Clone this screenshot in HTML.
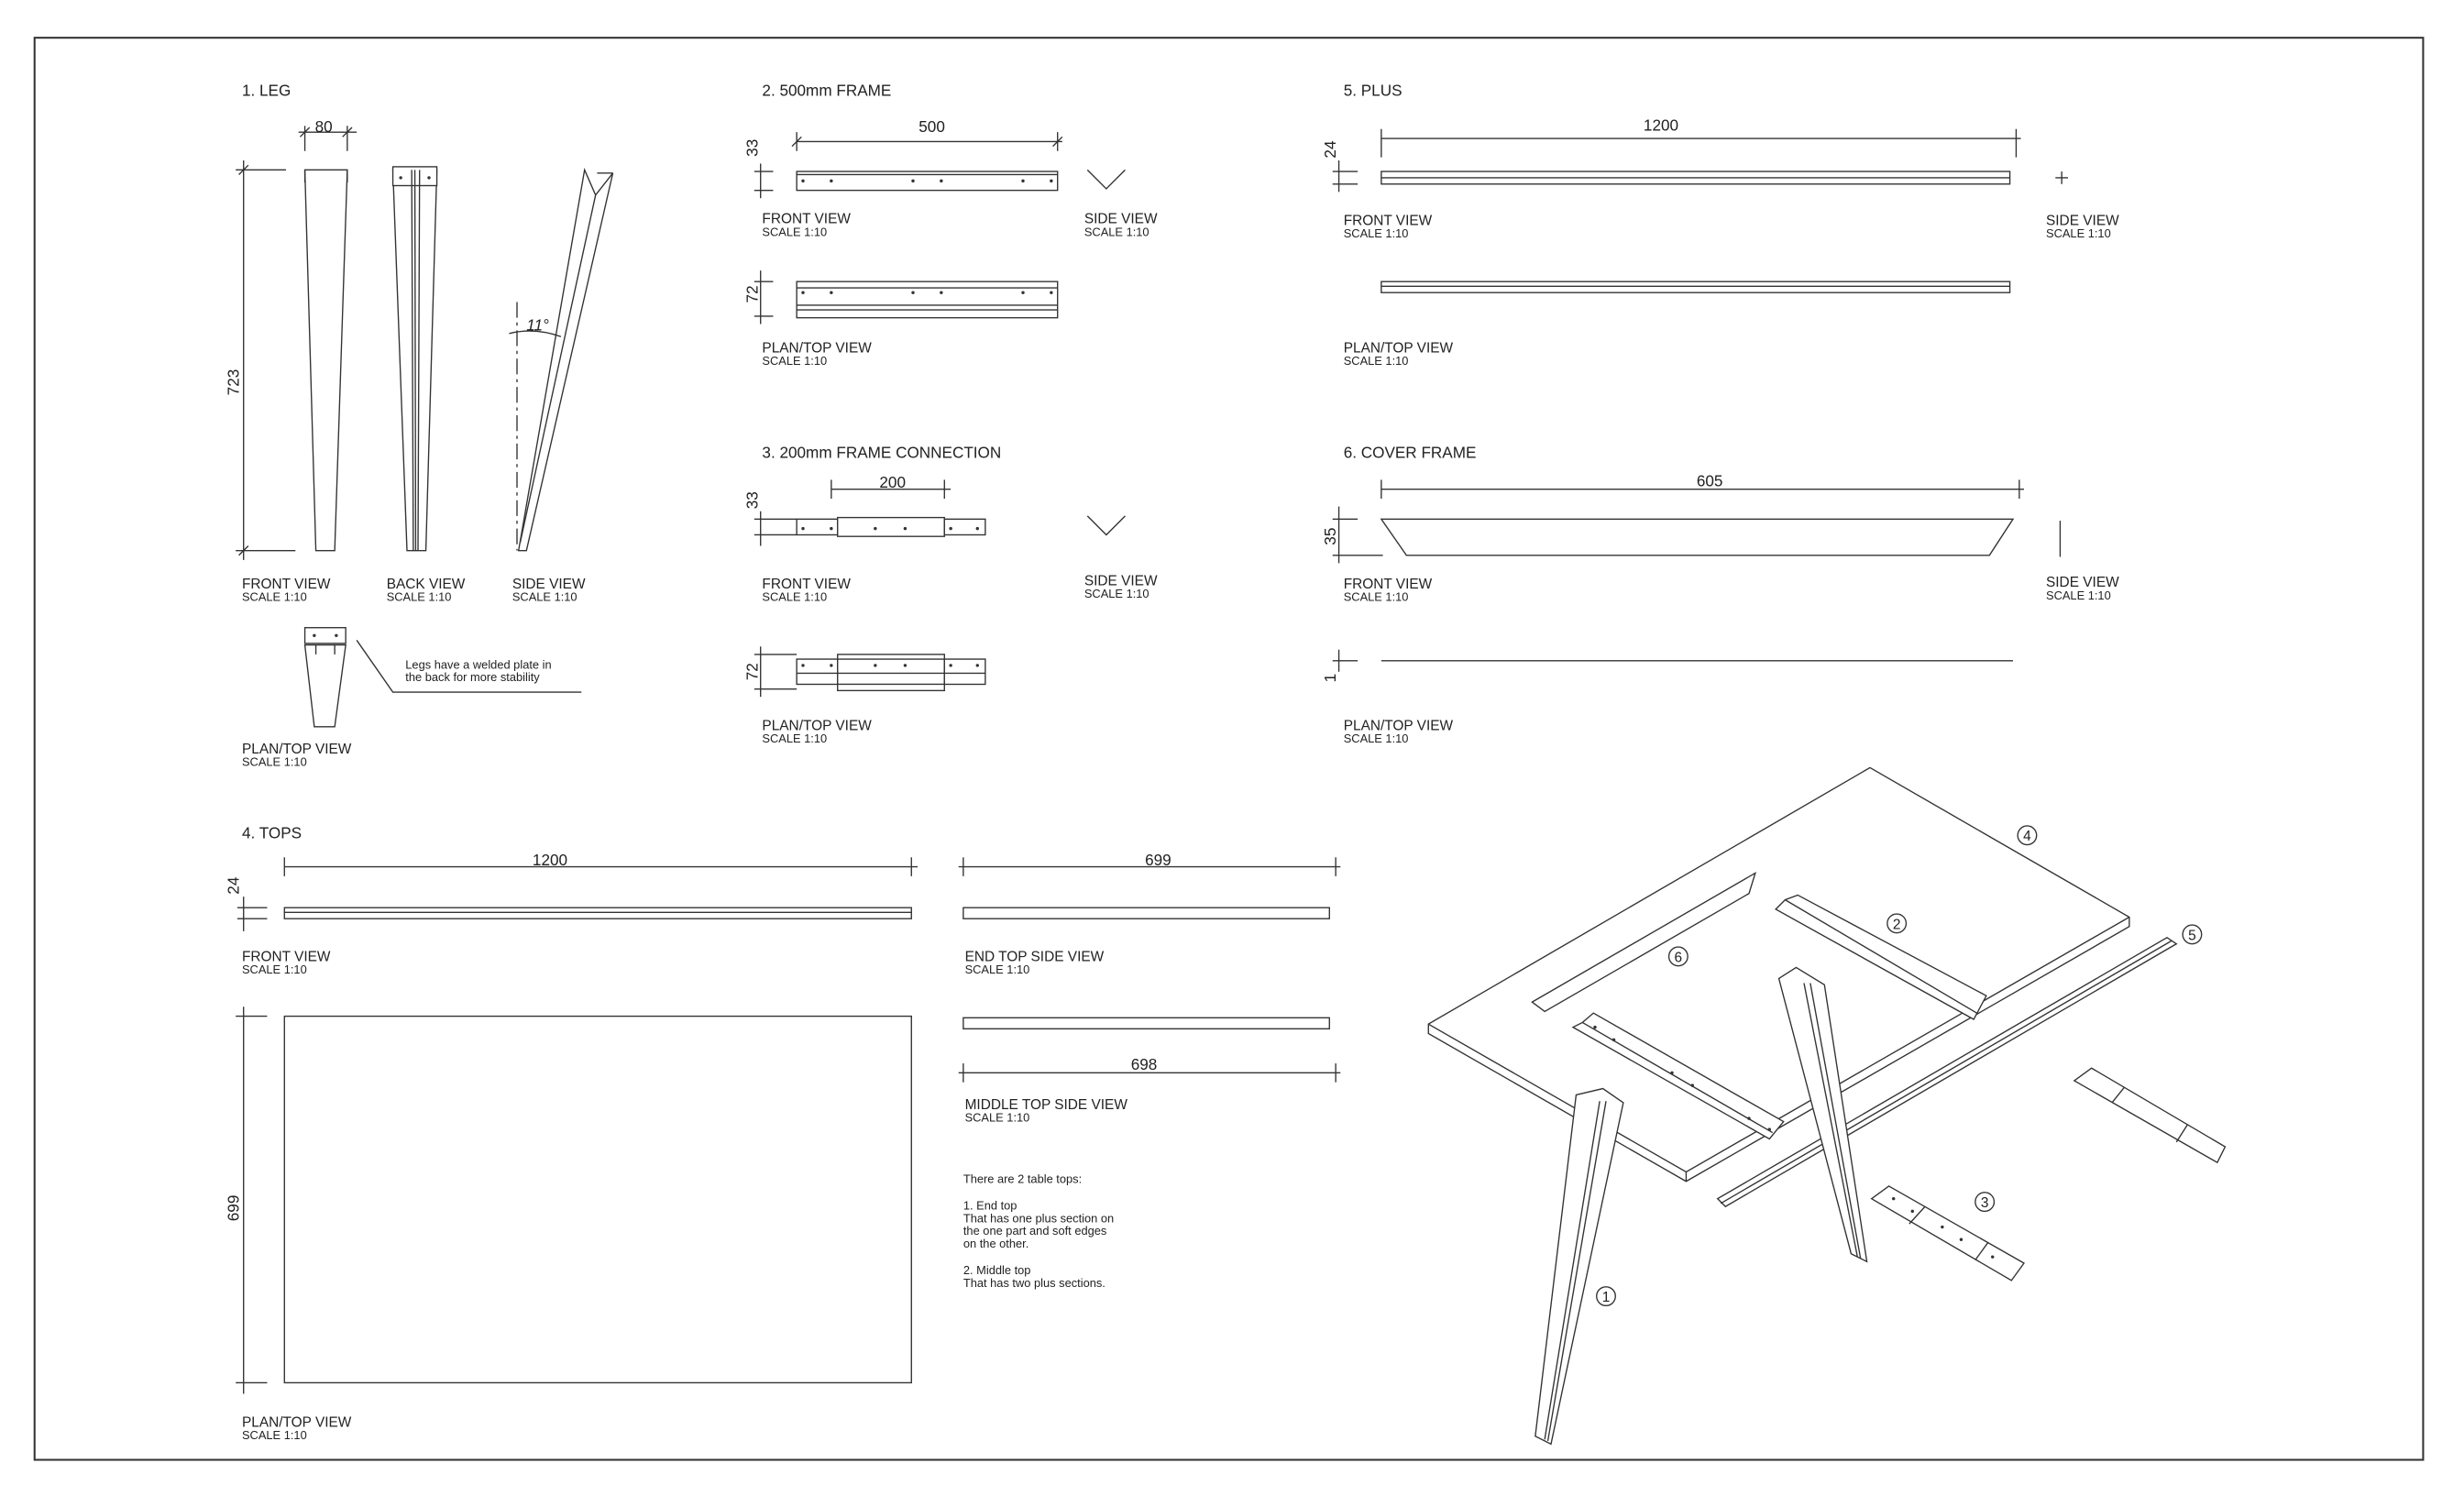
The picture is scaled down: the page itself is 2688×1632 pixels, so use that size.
<!DOCTYPE html>
<html><head><meta charset="utf-8"><style>
html,body{margin:0;padding:0;background:#fff}
svg{display:block}
text{font-family:"Liberation Sans",sans-serif;fill:#222}
.t{font-size:10px}
.v{font-size:9px}
.s{font-size:7.5px}
.d{font-size:10px;text-anchor:middle}
.n{font-size:7.5px}
</style></head><body>
<svg width="2688" height="1632" viewBox="0 0 1568 951" preserveAspectRatio="none" xmlns="http://www.w3.org/2000/svg">
<g fill="none" stroke="#333" stroke-width="0.8">
<rect x="22" y="24" width="1520" height="904" stroke-width="1.2"/>

<!-- LEG -->
<line x1="190" y1="84" x2="227" y2="84"/><line x1="194" y1="80" x2="194" y2="96"/><line x1="221" y1="80" x2="221" y2="96"/>
<line x1="191" y1="87" x2="197" y2="81"/><line x1="218" y1="87" x2="224" y2="81"/>
<polygon points="194,108 221,108 213,350 201,350" fill="#fff"/>
<line x1="194" y1="108" x2="194" y2="116"/><line x1="221" y1="108" x2="221" y2="116"/>
<line x1="155" y1="102" x2="155" y2="356"/><line x1="150" y1="108" x2="182" y2="108"/><line x1="150" y1="350" x2="188" y2="350"/>
<line x1="152" y1="111" x2="158" y2="105"/><line x1="152" y1="353" x2="158" y2="347"/>
<polygon points="250,108 278,108 271,350 259,350" fill="#fff"/>
<rect x="250" y="106" width="28" height="12" fill="#fff"/>
<line x1="262" y1="108" x2="263" y2="350"/><line x1="267" y1="108" x2="266" y2="350"/><line x1="264" y1="108" x2="264.5" y2="350"/>
<polygon points="372,108 379,124 390,110 335,350 330,350" fill="#fff"/>
<line x1="379" y1="124" x2="331" y2="345"/>
<line x1="329" y1="192" x2="329" y2="350" stroke-dasharray="10,3,2,3"/>
<path d="M324,212 Q340,208 357,214"/>
<line x1="380" y1="110" x2="390" y2="110"/>
<rect x="194" y="399" width="26" height="10" fill="#fff"/>
<polygon points="194,410 220,410 213,462 200,462" fill="#fff"/>
<line x1="201" y1="410" x2="201" y2="416"/><line x1="213" y1="410" x2="213" y2="416"/>
<polyline points="227,407 250,440 370,440"/>

<!-- 500 FRAME -->
<line x1="507" y1="90" x2="676" y2="90"/><line x1="507" y1="84" x2="507" y2="96"/><line x1="673" y1="84" x2="673" y2="96"/>
<line x1="504" y1="93" x2="510" y2="87"/><line x1="670" y1="93" x2="676" y2="87"/>
<line x1="484" y1="104" x2="484" y2="126"/><line x1="480" y1="109" x2="492" y2="109"/><line x1="480" y1="121" x2="492" y2="121"/>
<rect x="507" y="109" width="166" height="12" fill="#fff"/><line x1="507" y1="111" x2="673" y2="111"/>
<polyline points="692,108 704,120 716,108"/>
<rect x="507" y="179" width="166" height="23" fill="#fff"/><line x1="507" y1="183" x2="673" y2="183"/><line x1="507" y1="197" x2="673" y2="197"/><line x1="507" y1="194" x2="673" y2="194"/>
<line x1="484" y1="172" x2="484" y2="206"/><line x1="480" y1="179" x2="492" y2="179"/><line x1="480" y1="201" x2="492" y2="201"/>

<!-- 200 FRAME -->
<line x1="529" y1="311" x2="605" y2="311"/><line x1="529" y1="305" x2="529" y2="317"/><line x1="601" y1="305" x2="601" y2="317"/>
<line x1="484" y1="325" x2="484" y2="347"/><line x1="480" y1="330" x2="507" y2="330"/><line x1="480" y1="340" x2="507" y2="340"/>
<rect x="507" y="330" width="26" height="10" fill="#fff"/><rect x="533" y="329" width="68" height="12" fill="#fff"/><rect x="601" y="330" width="26" height="10" fill="#fff"/>
<polyline points="692,328 704,340 716,328"/>
<rect x="507" y="419" width="26" height="16" fill="#fff"/><rect x="533" y="416" width="68" height="23" fill="#fff"/><rect x="601" y="419" width="26" height="16" fill="#fff"/>
<line x1="507" y1="428" x2="627" y2="428"/><line x1="533" y1="419" x2="601" y2="419"/><line x1="533" y1="435" x2="601" y2="435"/>
<line x1="484" y1="411" x2="484" y2="443"/><line x1="480" y1="416" x2="507" y2="416"/><line x1="480" y1="438" x2="507" y2="438"/>

<!-- PLUS -->
<line x1="879" y1="88" x2="1286" y2="88"/><line x1="879" y1="82" x2="879" y2="100"/><line x1="1283" y1="82" x2="1283" y2="100"/>
<line x1="852" y1="102" x2="852" y2="122"/><line x1="848" y1="109" x2="864" y2="109"/><line x1="848" y1="117" x2="864" y2="117"/>
<rect x="879" y="109" width="400" height="8" fill="#fff"/><line x1="879" y1="113" x2="1279" y2="113"/>
<line x1="1308" y1="113" x2="1316" y2="113"/><line x1="1312" y1="109" x2="1312" y2="117"/>
<rect x="879" y="179" width="400" height="7" fill="#fff"/><line x1="879" y1="182" x2="1279" y2="182"/>

<!-- COVER -->
<line x1="879" y1="311" x2="1288" y2="311"/><line x1="879" y1="305" x2="879" y2="317"/><line x1="1285" y1="305" x2="1285" y2="317"/>
<line x1="852" y1="322" x2="852" y2="358"/><line x1="848" y1="330" x2="864" y2="330"/><line x1="848" y1="353" x2="880" y2="353"/>
<polygon points="879,330 1281,330 1266,353 895,353" fill="#fff"/>
<line x1="1311" y1="331" x2="1311" y2="354"/>
<line x1="879" y1="420" x2="1281" y2="420"/><line x1="852" y1="413" x2="852" y2="427"/><line x1="848" y1="420" x2="864" y2="420"/>

<!-- TOPS -->
<line x1="181" y1="551" x2="584" y2="551"/><line x1="181" y1="545" x2="181" y2="557"/><line x1="580" y1="545" x2="580" y2="557"/>
<line x1="155" y1="570" x2="155" y2="592"/><line x1="151" y1="577" x2="170" y2="577"/><line x1="151" y1="584" x2="170" y2="584"/>
<rect x="181" y="577" width="399" height="7" fill="#fff"/><line x1="181" y1="580" x2="580" y2="580"/>
<line x1="610" y1="551" x2="853" y2="551"/><line x1="613" y1="545" x2="613" y2="557"/><line x1="850" y1="545" x2="850" y2="557"/>
<rect x="613" y="577" width="233" height="7" fill="#fff"/>
<rect x="613" y="647" width="233" height="7" fill="#fff"/>
<line x1="610" y1="682" x2="853" y2="682"/><line x1="613" y1="676" x2="613" y2="688"/><line x1="850" y1="676" x2="850" y2="688"/>
<rect x="181" y="646" width="399" height="233" fill="#fff"/>
<line x1="155" y1="640" x2="155" y2="886"/><line x1="150" y1="646" x2="170" y2="646"/><line x1="150" y1="879" x2="170" y2="879"/>

<!-- ISO -->
<polygon points="1190,488 1355,583 1355,589 1073,751 909,657 909,651" fill="#fff"/>
<polyline points="909,651 1073,745 1355,583"/><line x1="1073" y1="745" x2="1073" y2="751"/>
<polygon points="975,637 1117,555 1113,568 983,643" fill="#fff"/>
<polygon points="1144,569 1264,633 1256,648 1130,578 1136,572" fill="#fff"/><line x1="1136" y1="572" x2="1258" y2="644"/>
<polygon points="1379,596 1385,600 1098,767 1093,762" fill="#fff"/><line x1="1382" y1="598" x2="1095" y2="765"/>
<polygon points="1014,644 1135,713 1126,724 1001,653 1007,650" fill="#fff"/><line x1="1007" y1="650" x2="1128" y2="720"/>
<polygon points="1003,696 1020,692 1033,701 987,918 977,913" fill="#fff"/><line x1="1018" y1="700" x2="983" y2="915"/><line x1="1022" y1="700" x2="985" y2="916"/>
<polygon points="1132,622 1143,615 1161,626 1188,802 1178,797" fill="#fff"/><line x1="1148" y1="625" x2="1182" y2="799"/><line x1="1152" y1="625" x2="1184" y2="800"/>
<polygon points="1202,754 1288,803 1280,814 1191,762" fill="#fff"/><line x1="1225" y1="767" x2="1215" y2="778"/><line x1="1265" y1="790" x2="1257" y2="801"/>
<polygon points="1331,679 1416,729 1411,739 1320,687" fill="#fff"/><line x1="1352" y1="691" x2="1344" y2="701"/><line x1="1392" y1="715" x2="1385" y2="726"/>
<circle cx="1290" cy="531" r="6"/><circle cx="1207" cy="587" r="6"/><circle cx="1068" cy="608" r="6"/><circle cx="1395" cy="594" r="6"/><circle cx="1263" cy="764" r="6"/><circle cx="1022" cy="824" r="6"/>
</g>
<g fill="#333">
<circle cx="255" cy="113" r="1"/><circle cx="273" cy="113" r="1"/><circle cx="200" cy="404" r="1"/><circle cx="214" cy="404" r="1"/>
<circle cx="511" cy="115" r="1"/><circle cx="529" cy="115" r="1"/><circle cx="581" cy="115" r="1"/><circle cx="599" cy="115" r="1"/><circle cx="651" cy="115" r="1"/><circle cx="669" cy="115" r="1"/>
<circle cx="511" cy="186" r="1"/><circle cx="529" cy="186" r="1"/><circle cx="581" cy="186" r="1"/><circle cx="599" cy="186" r="1"/><circle cx="651" cy="186" r="1"/><circle cx="669" cy="186" r="1"/>
<circle cx="511" cy="336" r="1"/><circle cx="529" cy="336" r="1"/><circle cx="557" cy="336" r="1"/><circle cx="576" cy="336" r="1"/><circle cx="605" cy="336" r="1"/><circle cx="622" cy="336" r="1"/>
<circle cx="511" cy="423" r="1"/><circle cx="529" cy="423" r="1"/><circle cx="557" cy="423" r="1"/><circle cx="576" cy="423" r="1"/><circle cx="605" cy="423" r="1"/><circle cx="622" cy="423" r="1"/>
<circle cx="1015" cy="653" r="1"/><circle cx="1027" cy="661" r="1"/><circle cx="1064" cy="682" r="1"/><circle cx="1077" cy="690" r="1"/><circle cx="1113" cy="711" r="1"/><circle cx="1126" cy="718" r="1"/>
<circle cx="1205" cy="762" r="1"/><circle cx="1217" cy="770" r="1"/><circle cx="1236" cy="780" r="1"/><circle cx="1248" cy="788" r="1"/><circle cx="1268" cy="799" r="1"/>
</g>
<g>
<text class="t" x="154" y="61">1. LEG</text>
<text class="d" x="206" y="84">80</text>
<text class="d" transform="translate(152,243) rotate(-90)">723</text>
<text class="t" x="335" y="210" font-style="italic">11°</text>
<text class="v" x="154" y="374">FRONT VIEW</text><text class="s" x="154" y="382">SCALE 1:10</text>
<text class="v" x="246" y="374">BACK VIEW</text><text class="s" x="246" y="382">SCALE 1:10</text>
<text class="v" x="326" y="374">SIDE VIEW</text><text class="s" x="326" y="382">SCALE 1:10</text>
<text class="n" x="258" y="425">Legs have a welded plate in</text><text class="n" x="258" y="433">the back for more stability</text>
<text class="v" x="154" y="479">PLAN/TOP VIEW</text><text class="s" x="154" y="487">SCALE 1:10</text>

<text class="t" x="485" y="61">2. 500mm FRAME</text>
<text class="d" x="593" y="84">500</text>
<text class="d" transform="translate(482,94) rotate(-90)">33</text>
<text class="v" x="485" y="142">FRONT VIEW</text><text class="s" x="485" y="150">SCALE 1:10</text>
<text class="v" x="690" y="142">SIDE VIEW</text><text class="s" x="690" y="150">SCALE 1:10</text>
<text class="d" transform="translate(482,187) rotate(-90)">72</text>
<text class="v" x="485" y="224">PLAN/TOP VIEW</text><text class="s" x="485" y="232">SCALE 1:10</text>

<text class="t" x="485" y="291">3. 200mm FRAME CONNECTION</text>
<text class="d" x="568" y="310">200</text>
<text class="d" transform="translate(482,318) rotate(-90)">33</text>
<text class="v" x="485" y="374">FRONT VIEW</text><text class="s" x="485" y="382">SCALE 1:10</text>
<text class="v" x="690" y="372">SIDE VIEW</text><text class="s" x="690" y="380">SCALE 1:10</text>
<text class="d" transform="translate(482,427) rotate(-90)">72</text>
<text class="v" x="485" y="464">PLAN/TOP VIEW</text><text class="s" x="485" y="472">SCALE 1:10</text>

<text class="t" x="855" y="61">5. PLUS</text>
<text class="d" x="1057" y="83">1200</text>
<text class="d" transform="translate(850,95) rotate(-90)">24</text>
<text class="v" x="855" y="143">FRONT VIEW</text><text class="s" x="855" y="151">SCALE 1:10</text>
<text class="v" x="1302" y="143">SIDE VIEW</text><text class="s" x="1302" y="151">SCALE 1:10</text>
<text class="v" x="855" y="224">PLAN/TOP VIEW</text><text class="s" x="855" y="232">SCALE 1:10</text>

<text class="t" x="855" y="291">6. COVER FRAME</text>
<text class="d" x="1088" y="309">605</text>
<text class="d" transform="translate(850,341) rotate(-90)">35</text>
<text class="v" x="855" y="374">FRONT VIEW</text><text class="s" x="855" y="382">SCALE 1:10</text>
<text class="v" x="1302" y="373">SIDE VIEW</text><text class="s" x="1302" y="381">SCALE 1:10</text>
<text class="d" transform="translate(850,431) rotate(-90)">1</text>
<text class="v" x="855" y="464">PLAN/TOP VIEW</text><text class="s" x="855" y="472">SCALE 1:10</text>

<text class="t" x="154" y="533">4. TOPS</text>
<text class="d" x="350" y="550">1200</text>
<text class="d" transform="translate(152,563) rotate(-90)">24</text>
<text class="v" x="154" y="611">FRONT VIEW</text><text class="s" x="154" y="619">SCALE 1:10</text>
<text class="d" x="737" y="550">699</text>
<text class="v" x="614" y="611">END TOP SIDE VIEW</text><text class="s" x="614" y="619">SCALE 1:10</text>
<text class="d" x="728" y="680">698</text>
<text class="v" x="614" y="705">MIDDLE TOP SIDE VIEW</text><text class="s" x="614" y="713">SCALE 1:10</text>
<text class="n" x="613" y="752">There are 2 table tops:</text>
<text class="n" x="613" y="769">1. End top</text>
<text class="n" x="613" y="777">That has one plus section on</text>
<text class="n" x="613" y="785">the one part and soft edges</text>
<text class="n" x="613" y="793">on the other.</text>
<text class="n" x="613" y="810">2. Middle top</text>
<text class="n" x="613" y="818">That has two plus sections.</text>
<text class="d" transform="translate(152,768) rotate(-90)">699</text>
<text class="v" x="154" y="907">PLAN/TOP VIEW</text><text class="s" x="154" y="915">SCALE 1:10</text>

<g font-size="9" text-anchor="middle">
<text x="1290" y="534.5">4</text><text x="1207" y="590.5">2</text><text x="1068" y="611.5">6</text><text x="1395" y="597.5">5</text><text x="1263" y="767.5">3</text><text x="1022" y="827.5">1</text>
</g>
</g>
</svg>
</body></html>
